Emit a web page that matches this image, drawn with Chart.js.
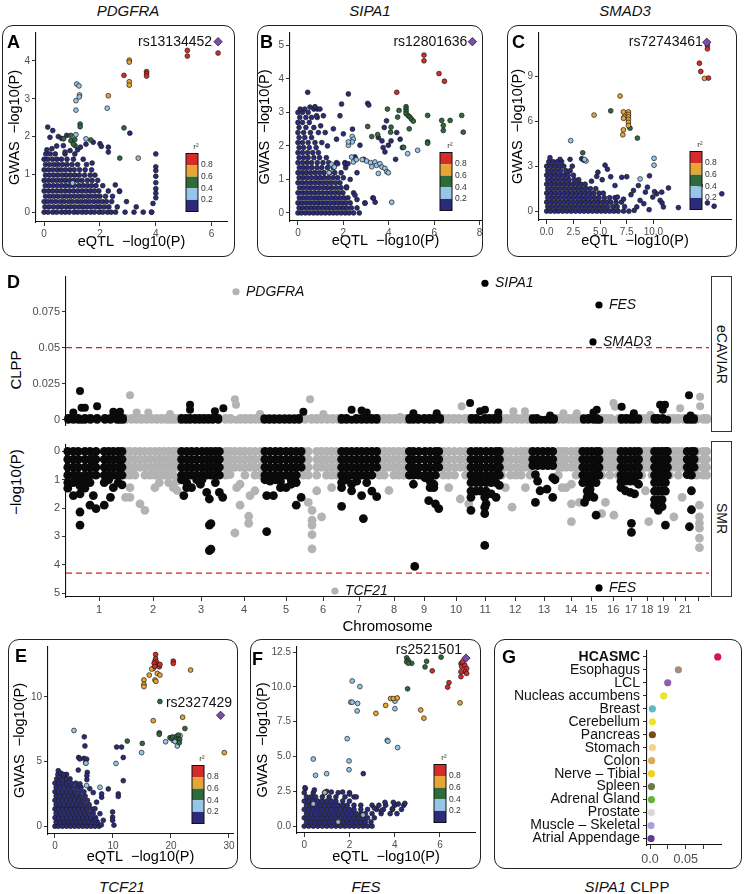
<!DOCTYPE html>
<html>
<head>
<meta charset="utf-8">
<script src="https://cdn.jsdelivr.net/npm/chart.js@4.4.1/dist/chart.umd.min.js"></script>
<style>
  body { margin: 0; background: #fff; }
  #fig { position: relative; width: 744px; height: 894px; overflow: hidden; font-family: 'Liberation Sans', Arial, Helvetica, sans-serif; }
  .box { position: absolute; border: 1.3px solid #222; border-radius: 11px; box-sizing: border-box; }
  .letter { position: absolute; font-weight: bold; font-size: 18px; line-height: 1; color: #000; z-index: 3; }
  .title { position: absolute; font-size: 15px; line-height: 1; color: #111; transform: translateX(-50%); white-space: nowrap; }
  .title i { font-style: italic; }
  canvas { position: absolute; z-index: 2; }
  .strip { position: absolute; border: 1.2px solid #333; box-sizing: border-box; background: #fff; display: flex; align-items: center; justify-content: center; z-index: 3; }
  .strip span { writing-mode: vertical-rl; font-size: 14px; color: #111; }
  .ytitle { position: absolute; font-size: 15px; color: #000; transform: translate(-50%, -50%) rotate(-90deg); white-space: nowrap; }
</style>
</head>
<body>
<div id="fig">
  <!-- top row -->
  <div class="title" style="left:128px;top:3px"><i>PDGFRA</i></div>
  <div class="title" style="left:370px;top:3px"><i>SIPA1</i></div>
  <div class="title" style="left:625px;top:3px"><i>SMAD3</i></div>
  <div class="box" style="left:2px;top:25px;width:233px;height:232px"></div>
  <div class="box" style="left:257px;top:25px;width:226px;height:232px"></div>
  <div class="box" style="left:507px;top:25px;width:230px;height:232px"></div>
  <div class="letter" style="left:7px;top:33px">A</div>
  <div class="letter" style="left:260px;top:33px">B</div>
  <div class="letter" style="left:512px;top:33px">C</div>
  <canvas id="cA" width="240" height="233" style="left:0;top:25px"></canvas>
  <canvas id="cB" width="245" height="233" style="left:245px;top:25px"></canvas>
  <canvas id="cC" width="254" height="233" style="left:490px;top:25px"></canvas>

  <!-- middle panel -->
  <div class="letter" style="left:7px;top:273px">D</div>
  <div class="ytitle" style="left:15px;top:370px">CLPP</div>
  <div class="ytitle" style="left:15px;top:482px">−log10(P)</div>
  <div class="strip" style="left:711px;top:276px;width:21px;height:156px"><span>eCAVIAR</span></div>
  <div class="strip" style="left:711px;top:441px;width:21px;height:156px"><span>SMR</span></div>
  <canvas id="cDtop" width="744" height="166" style="left:0;top:268px"></canvas>
  <canvas id="cDbot" width="744" height="202" style="left:0;top:436px"></canvas>

  <!-- bottom row -->
  <div class="box" style="left:8px;top:639px;width:230px;height:230px"></div>
  <div class="box" style="left:250px;top:639px;width:231px;height:230px"></div>
  <div class="box" style="left:494px;top:639px;width:248px;height:230px"></div>
  <div class="letter" style="left:15px;top:647px">E</div>
  <div class="letter" style="left:252px;top:650px">F</div>
  <div class="letter" style="left:502px;top:648px">G</div>
  <canvas id="cE" width="240" height="230" style="left:0;top:639px"></canvas>
  <canvas id="cF" width="245" height="230" style="left:245px;top:639px"></canvas>
  <canvas id="cG" width="248" height="230" style="left:494px;top:639px"></canvas>
  <div class="title" style="left:122px;top:879px"><i>TCF21</i></div>
  <div class="title" style="left:366px;top:879px"><i>FES</i></div>
  <div class="title" style="left:627px;top:879px"><i>SIPA1</i> CLPP</div>
</div>

<script>
const FONT = "'Liberation Sans', Arial, Helvetica, sans-serif";
Chart.defaults.font.family = FONT;
Chart.defaults.color = '#4d4d4d';

// r2 colour key, top to bottom
const r2Colors = ['#D62A2B', '#E6A534', '#2F6A3B', '#95C6E8', '#2B2B7C'];
const r2Labels = ['0.8', '0.6', '0.4', '0.2'];
const naColor = '#B0B0B0';
const leadColor = '#7A4FA3';

// ---------- Panel A (PDGFRA) ----------
const aLead = [6.23, 4.51];
const aRed = [[5.13,4.28],[5.13,4.13],[6.23,4.21],[3.67,3.72],[3.67,3.66],[3.67,3.6],[2.86,3.62]];
const aOrange = [[3.05,4.02],[3.05,3.97],[3.05,3.45],[3.05,3.36],[2.3,3.08]];
const aGreen = [[1.29,2.33],[1.29,2.26],[2.86,2.23],[.96,2.03],[.96,1.89],[1.1,1.92],[1.11,1.76],[2.71,1.43],[.7,1.94],[1.67,1.91],[1.05,1.8]];
const aLblue = [[1.17,3.39],[1.25,3.34],[1.27,3.1],[1.26,3.05],[1.14,2.95],[1.14,2.7],[2.26,2.75],[1.5,1.94],[1.14,2.05],[1.02,.77]];
const aGray = [[3.37,1.43]];
const aNavyRows = [
  [0, [0,.14,.31,.45,.62,.76,.9,1.07,1.2,1.36,1.5,1.66,1.8,1.97,2.1,2.27,2.4,2.56,2.9,3.22,3.55,3.85]],
  [.14, [.03,.18,.34,.5,.64,.8,.95,1.1,1.26,1.4,1.55,1.7,1.86,2.0,2.16,2.32,2.62,3.3]],
  [.28, [0,.12,.27,.42,.58,.72,.88,1.02,1.18,1.33,1.48,1.62,1.78,1.93,2.08,2.23,2.42,2.95]],
  [.42, [.05,.2,.35,.5,.66,.8,.95,1.1,1.25,1.4,1.56,1.7,1.85,2.0,2.2,2.45]],
  [.56, [0,.15,.3,.45,.6,.75,.9,1.05,1.2,1.35,1.5,1.65,1.8,1.96,2.3,2.7]],
  [.7, [.04,.18,.33,.48,.63,.78,.93,1.08,1.25,1.4,1.55,1.7,1.86,2.1]],
  [.84, [0,.15,.3,.45,.6,.75,.9,1.05,1.2,1.36,1.55,1.72,1.92]],
  [.98, [.05,.2,.35,.5,.66,.8,.95,1.1,1.26,1.45,1.65,1.82]],
  [1.12, [0,.15,.3,.46,.6,.76,.92,1.08,1.27,1.47,1.7]],
  [1.26, [.05,.2,.36,.5,.66,.82,1.0,1.2,1.52]],
  [1.4, [0,.13,.3,.46,.62,.82,1.05,1.4]],
  [1.54, [.06,.22,.4,.75,1.1]]
];
const aNavyPts = [[.13,2.25],[.31,2.16],[.21,1.98],[.51,2.0],[.63,1.95],[.81,2.03],[.69,1.76],[.75,1.59],[.93,1.63],[1.2,1.65],[1.76,1.85],[2.0,1.81],[2.05,1.74],[2.3,1.72],[2.3,1.59],[3.07,2.09],[.45,1.75],[.1,1.65],[1.5,1.8],[4.0,1.54],[4.0,1.2],[4.0,1.1],[4.0,.95],[4.0,.78],[4.0,.62],[4.0,.5],[4.0,.38],[3.9,.23],[3.85,0],[2.7,.55],[2.55,.72],[.28,1.68],[1.3,1.72],[1.72,1.3]];

// ---------- Panel B (SIPA1) ----------
const bLead = [7.68, 5.11];
const bRed = [[5.55,4.71],[5.55,4.54],[6.21,4.16],[6.45,3.93],[4.35,3.6]];
const bOrange = [];
const bGreen = [[3.94,3.1],[4.45,3.06],[4.76,3.17],[4.76,3.1],[4.76,3.03],[4.76,2.96],[4.86,2.9],[4.93,2.86],[5.0,2.8],[5.08,2.74],[5.71,2.91],[6.4,2.61],[6.33,2.76],[6.4,2.46],[6.7,2.76],[7.21,2.91],[7.28,2.41],[5.71,2.12],[5.71,2.08],[3.07,2.58],[3.25,2.28],[3.51,2.34],[4.08,2.41],[4.1,2.56],[4.9,2.51],[4.39,2.86],[4.65,1.96]];
const bLblue = [[3.02,1.55],[3.2,1.5],[3.39,1.52],[3.46,1.42],[3.61,1.47],[3.7,1.37],[3.83,1.33],[3.91,1.23],[3.98,1.2],[3.25,1.38],[3.54,1.18],[2.39,2.28],[2.44,2.2],[2.39,2.12],[2.22,2.02],[2.22,2.12],[1.48,1.45],[1.6,1.37],[1.37,1.2],[2.44,1.52],[5.27,1.87],[4.83,1.77],[4.13,.32],[2.36,1.67],[2.57,1.59],[2.83,1.59]];
const bGray = [];
const bNavyRows = [
  [0, [0,.15,.33,.5,.68,.85,1.02,1.2,1.38,1.55,1.72,1.9,2.08,2.25,2.45,2.7]],
  [.15, [.05,.22,.4,.58,.75,.92,1.1,1.28,1.45,1.62,1.8,1.98,2.15,2.35,2.6]],
  [.3, [0,.16,.34,.52,.7,.88,1.05,1.22,1.4,1.58,1.75,1.92,2.1,2.3,2.95]],
  [.45, [.06,.24,.42,.6,.78,.95,1.12,1.3,1.48,1.66,1.84,2.02,2.2,3.3]],
  [.6, [0,.18,.36,.54,.72,.9,1.08,1.26,1.44,1.62,1.8,1.98,2.45]],
  [.75, [.07,.25,.43,.6,.78,.96,1.14,1.32,1.5,1.7,1.9,2.14]],
  [.9, [0,.18,.36,.54,.72,.9,1.08,1.26,1.45,1.65,1.85]],
  [1.05, [.05,.23,.41,.6,.8,.98,1.16,1.35,1.55,1.75,2.0]],
  [1.2, [0,.18,.36,.55,.75,.95,1.15,1.4,1.62,1.9]],
  [1.35, [.06,.24,.42,.62,.84,1.05,1.3,1.55,2.1]],
  [1.5, [0,.2,.4,.6,.85,1.1,1.35,1.7,2.07]],
  [1.65, [.05,.25,.45,.7,.95,1.25]],
  [1.8, [0,.2,.42,.65,.9]],
  [1.95, [.05,.25,.5,.8]],
  [2.1, [0,.2,.45,.75,1.05]],
  [2.25, [.05,.3,.6]],
  [2.4, [0,.25,.55,.9]],
  [2.55, [.05,.35,.7]],
  [2.7, [0,.2,.5]],
  [2.85, [.08,.35,.6,.85]],
  [3.0, [0,.2,.45]],
  [3.1, [.1,.3,.7,.85]]
];
const bNavyPts = [[.43,3.6],[.53,3.16],[.75,3.17],[.97,3.1],[1.12,2.9],[.82,2.9],[1.0,2.6],[1.2,2.4],[1.3,2.0],[2.22,3.55],[1.92,3.25],[1.85,2.9],[3.07,3.27],[3.12,3.22],[2.0,2.36],[1.56,2.51],[3.54,2.25],[3.7,2.15],[3.98,2.02],[4.1,2.15],[3.83,1.82],[3.75,1.95],[2.73,2.02],[2.51,1.67],[2.9,1.6],[2.07,1.47],[2.14,.78],[2.51,.53],[2.6,.4],[3.32,.44],[3.4,.32],[2.95,.29],[2.3,1.0],[2.6,1.2],[1.7,2.2],[2.4,2.5],[4.3,1.6],[4.6,1.95],[4.5,2.2],[4.35,2.4],[3.8,2.55],[3.9,2.75],[1.75,1.47],[2.2,1.47]];

// ---------- Panel C (SMAD3) ----------
const cLead = [15.0, 11.28];
const cRed = [[15.06,11.06],[15.06,10.84],[14.31,9.88],[14.44,9.33],[15.16,8.89]];
const cOrange = [[14.78,8.87],[6.88,7.69],[4.44,6.42],[7.19,6.63],[7.28,6.31],[7.66,6.63],[7.66,6.46],[7.66,6.3],[7.66,6.13],[7.66,5.93],[7.66,5.72],[7.19,5.43],[7.13,5.1],[7.2,6.2]];
const cGreen = [[6.0,6.7],[7.81,5.54],[8.5,4.88],[3.38,3.9]];
const cLblue = [[2.25,4.71],[3.69,3.35],[3.55,3.45],[10.06,3.53],[10.06,3.07],[8.75,2.15]];
const cGray = [];
const cNavyRows = [
  [0, [0,.35,.75,1.1,1.5,1.9,2.3,2.7,3.1,3.5,3.9,4.3,4.7,5.1,5.5,5.9,6.3,6.7,7.2,7.7]],
  [.3, [.1,.5,.9,1.3,1.7,2.1,2.5,2.9,3.3,3.7,4.1,4.5,4.9,5.3,5.7,6.2,6.6,7.3]],
  [.6, [0,.4,.8,1.2,1.6,2.0,2.4,2.8,3.2,3.6,4.0,4.4,4.8,5.2,5.6,6.0,6.5,7.0]],
  [.9, [.1,.5,.9,1.3,1.7,2.1,2.5,2.9,3.3,3.7,4.1,4.5,4.9,5.4,5.9,6.4]],
  [1.2, [0,.4,.8,1.2,1.6,2.0,2.4,2.8,3.2,3.6,4.0,4.4,4.9,5.3]],
  [1.5, [.1,.5,.9,1.3,1.7,2.1,2.5,2.9,3.3,3.7,4.1,4.6]],
  [1.8, [0,.4,.8,1.2,1.6,2.0,2.4,2.8,3.2,3.6]],
  [2.1, [.1,.5,.9,1.3,1.7,2.1,2.6,3.0]],
  [2.4, [0,.4,.8,1.2,1.6,2.0,2.5]],
  [2.7, [.1,.5,.9,1.3,1.8,2.2]],
  [3.0, [0,.4,.8,1.2,1.6,2.4]],
  [3.3, [.2,.6,1.0,1.4]]
];
const cNavyPts = [[.31,3.57],[1.25,3.46],[2.19,3.46],[3.28,3.5],[3.5,3.4],[5.47,3.07],[5.69,2.8],[4.69,2.32],[7.03,2.26],[7.5,2.3],[9.63,2.36],[9.44,1.6],[8.59,1.71],[6.4,1.71],[8.13,1.38],[9.25,1.27],[9.94,.94],[10.31,1.16],[10.63,.72],[10.81,.55],[11.41,1.55],[10.78,1.27],[10.94,.28],[12.34,.24],[14.22,1.86],[14.38,1.71],[15.06,.55],[15.69,.33],[16.41,1.16],[6.63,.94],[7.2,.8],[8.75,.72],[9.1,.5],[8.44,.28],[8.2,.05],[9.6,.1],[6.0,2.3],[5.2,2.1],[4.8,2.6],[4.2,2.0],[10.1,1.3],[7.9,1.1]];

// ---------- Panel E (TCF21) ----------
const eLead = [28.56, 8.57];
const eRed = [[17.36,13.27],[17.36,12.95],[17.5,12.7],[17.64,12.5],[17.99,12.32],[18.1,12.5],[20.4,12.76],[20.4,12.58],[17.1,12.6],[17.2,12.35]];
const eOrange = [[17.24,12.76],[16.95,12.19],[16.7,12.15],[17.64,11.81],[16.26,11.68],[18.1,11.68],[15.34,11.3],[15.34,10.97],[15.34,10.79],[17.24,11.3],[17.4,11.2],[23.39,12.07],[16.95,8.16],[22.01,8.42],[29.2,5.69]];
const eGreen = [[18.1,9.64],[17.99,7.22],[17.99,7.1],[12.47,6.58],[15.06,6.4],[19.83,6.84],[20.1,6.78],[20.3,6.9],[21.0,6.95],[21.26,7.04],[21.26,6.75],[22.41,7.55],[21.5,6.7],[21.44,6.45]];
const eLblue = [[19.08,6.53],[20.4,6.63],[20.7,6.55],[21.09,6.2],[21.6,7.0],[14.94,5.69],[10.52,4.85],[3.28,7.4],[5.34,4.87],[5.46,3.14],[7.76,3.01]];
const eGray = [];
const eNavyRows = [
  [0, [0,.6,1.3,2.0,2.7,3.4,4.1,4.8,5.5,6.2,6.9,7.6]],
  [.33, [.2,.9,1.6,2.3,3.0,3.7,4.4,5.1,5.8,6.5,7.3]],
  [.66, [0,.6,1.3,2.0,2.7,3.4,4.1,4.8,5.5,6.2,7.0]],
  [1.0, [.2,.9,1.6,2.3,3.0,3.7,4.4,5.1,5.8,6.6]],
  [1.33, [0,.6,1.3,2.0,2.7,3.4,4.1,4.8,5.5,6.3]],
  [1.66, [.2,.9,1.6,2.3,3.0,3.7,4.4,5.1,5.9]],
  [2.0, [0,.6,1.3,2.0,2.7,3.4,4.1,4.8,5.6]],
  [2.33, [.2,.9,1.6,2.3,3.0,3.7,4.4,5.2]],
  [2.66, [0,.6,1.3,2.0,2.7,3.4,4.2,5.0]],
  [3.0, [.2,.9,1.6,2.3,3.0,3.8,4.5]],
  [3.33, [0,.6,1.3,2.0,2.8,3.6]],
  [3.66, [.3,1.0,1.8,2.6]],
  [4.0, [.5,1.2,2.0]]
];
const eNavyPts = [[.57,4.29],[1.0,4.1],[1.5,4.0],[2.01,3.65],[5.06,6.91],[5.17,6.2],[4.08,5.31],[4.3,5.2],[4.02,4.34],[5.0,5.25],[5.46,5.18],[5.3,4.9],[5.57,4.16],[5.5,3.9],[5.5,3.6],[4.31,3.27],[10.63,6.12],[11.49,6.12],[11.78,5.31],[11.78,3.52],[9.2,2.88],[10.92,2.5],[10.92,2.3],[9.94,1.1],[9.94,.7],[9.94,.46],[10.17,.08],[8.05,2.24],[8.05,2.5],[7.18,1.86],[6.9,1.35],[7.76,.97],[8.33,.46],[6.6,2.6],[6.0,2.9],[7.0,.5],[8.0,.1]];

// ---------- Panel F (FES) ----------
const fLead = [7.15, 12.06];
const fRed = [[6.93,11.66],[6.96,11.45],[7.1,11.55],[7.18,11.31],[7.1,11.1],[7.18,10.96],[6.93,11.08],[6.93,10.73],[6.4,10.3],[6.34,9.98],[5.66,11.15],[7.0,11.8]];
const fOrange = [[6.89,8.85],[5.15,8.34],[5.29,7.75],[3.82,9.16],[3.94,9.16],[4.11,9.2],[3.6,8.67],[3.17,8.1]];
const fGreen = [[4.53,12.08],[4.6,11.9],[4.53,11.8],[4.75,11.69],[4.6,11.7],[5.41,11.83],[5.34,11.43],[6.05,12.13],[4.57,9.86]];
const fLblue = [[2.12,10.42],[2.46,10.02],[2.06,8.9],[2.12,8.9],[2.36,8.81],[2.34,8.27],[4.01,8.97],[4.01,8.43],[1.9,6.28],[3.67,6.16],[3.7,6.1],[4.13,5.64],[.4,4.82],[.5,3.65],[.99,3.77],[1.98,4.68],[1.98,4.05]];
const fGray = [[.91,2.41],[.4,1.6],[2.6,.8],[1.5,.3]];
const fNavyRows = [
  [0, [0,.2,.4,.6,.8,1.0,1.2,1.4,1.6,1.8,2.0,2.2,2.4,2.6,2.8,3.0]],
  [.3, [.1,.3,.5,.7,.9,1.1,1.3,1.5,1.7,1.9,2.1,2.3,2.5,2.7,2.95]],
  [.6, [0,.2,.4,.6,.8,1.0,1.2,1.4,1.6,1.8,2.0,2.2,2.4,2.6,2.8,3.1]],
  [.9, [.1,.3,.5,.7,.9,1.1,1.3,1.5,1.7,1.9,2.1,2.3,2.5,2.7,3.0,3.4,3.8,4.1]],
  [1.2, [0,.2,.4,.6,.8,1.0,1.2,1.4,1.6,1.8,2.0,2.2,2.5,2.8,3.2,3.5,3.9,4.3]],
  [1.5, [.1,.3,.5,.7,.9,1.1,1.3,1.5,1.7,1.9,2.2,2.5,3.0,3.3,3.6,4.0,4.4]],
  [1.8, [0,.2,.4,.6,.8,1.0,1.2,1.4,1.7,2.0]],
  [2.1, [.1,.3,.5,.8,1.1,1.4,1.8,2.2]],
  [2.4, [0,.4,.9,1.5,2.0]],
  [2.7, [.05]]
];
const fNavyPts = [[2.61,3.77],[.03,2.76],[.45,2.6],[.99,2.5],[1.2,2.45],[1.7,2.45],[2.0,2.3],[2.3,2.1],[3.57,1.71],[3.94,1.71],[4.16,1.59],[4.45,1.64],[3.9,1.25],[3.4,1.1],[3.1,1.3]];

// ---------- Panel D (genome-wide, cumulative Mb) ----------
const chrTicks = [149,392,608,801,990,1157,1319,1476,1611,1755,1886,2021,2151,2273,2363,2462,2543,2615,2687,2741,2786,2844];
const chrLabels = ['1','2','3','4','5','6','7','8','9','10','11','12','13','14','15','16','17','18','19','','21',''];
const genomeEnd = 2893;
const clppThreshold = 0.05;
const smrThreshold = 4.3;

const clppGenes = ['PDGFRA', 'SIPA1', 'FES', 'SMAD3'];
const clppGenePos = [765, 1885, 2398, 2371];
const clppGeneVal = [0.0888, 0.0947, 0.0796, 0.054];
const clppGeneGray = [true, false, false, false];
const smrGenes = ['TCF21', 'FES'];
const smrGenePos = [1210, 2398];
const smrGeneVal = [4.93, 4.82];
const smrGeneGray = [true, false];

const clppBlackCols = [
  [10,[0,.0013]],[33,[0,.0013,.005]],[55,[0,.0013]],[63,[.02]],[70,[0,.0083]],[85,[0,.0013,.0083]],[110,[0,.0013]],[140,[0,.0013,.0094]],[175,[0,.0013]],[200,[0,.0013]],[213,[.0055]],[230,[0,.0013]],[243,[0,.0055]],[256,[0,.0013]],
  [520,[0,.0013]],[540,[0,.0013]],[558,[0,.0013,.007,.0105]],[580,[0,.0013]],[600,[0,.0013]],[620,[0,.0013]],[640,[0,.0013]],[660,[0,.0013]],[670,[.006]],[685,[0,.0013]],[708,[.008]],
  [893,[0,.001]],[915,[0,.001]],[937,[0,.001]],[960,[0,.001]],[983,[0,.001]],[1005,[0,.001]],[1027,[0,.001]],[1048,[0,.0013]],[1068,[.0055]],
  [1240,[0,.0013]],[1262,[0,.0013]],[1285,[0,.007]],[1307,[0,.0013]],[1330,[0,.0013,.0065]],[1353,[0,.005]],[1375,[0,.0013]],[1397,[0,.0013]],
  [1545,[0,.0013]],[1563,[0,.0046]],[1585,[0,.0013]],[1612,[0,.0013]],[1635,[0,.0013]],[1655,[0,.0013]],[1668,[.0046]],[1683,[0,.0013]],
  [1818,[.0116]],[1825,[0,.0013]],[1845,[0,.0013]],[1863,[0,.006]],[1885,[0,.0013,.007]],[1905,[0,.0013]],[1925,[0,.0013]],[1945,[0,.0013,.005]],
  [2100,[0,.001]],[2118,[0,.0013]],[2138,[0]],[2158,[0]],[2178,[0,.003]],[2195,[0,.001]],
  [2330,[0,.001]],[2350,[0,.0013]],[2373,[0,.005]],[2388,[0,.0013,.007]],[2400,[0]],
  [2500,[0,.0013,.009]],[2520,[0,.0013]],[2540,[0,.0013]],[2555,[0,.0046]],[2575,[0,.001]],
  [2648,[0,.0013]],[2662,[0,.0013]],[2673,[.0105]],[2685,[0,.0013,.007]],[2695,[.0105]],[2705,[0]],
  [2795,[0,.001]],[2803,[.017]],[2810,[0,.003]],[2825,[0,.001]]
];
const clppGrayCols = [
  [270,[0,.0013]],[288,[.017]],[295,[0,.0013]],[318,[0,.005]],[340,[0,.0013]],[362,[0,.0013]],[370,[.005]],[385,[0,.0013]],[408,[0,.0013]],[430,[0,.0013]],[452,[0,.0013]],[468,[0,.004]],[485,[0,.0013]],[505,[0,.0013]],
  [718,[0,.0013]],[740,[0,.0013]],[760,[.0143]],[765,[0,.0105]],[785,[0,.0013]],[808,[0,.0013]],[830,[0,.0013]],[853,[0,.0013]],[873,[0,.004]],
  [1075,[0,.0013]],[1098,[.0143]],[1105,[0,.0013]],[1128,[0,.0013]],[1150,[0,.0013]],[1158,[.004]],[1175,[0,.0013]],[1200,[0,.0013]],[1225,[0,.0013]],
  [1410,[0,.0013]],[1432,[0,.0013]],[1455,[0,.0013]],[1478,[0,.0013]],[1503,[0,.002]],[1528,[0,.0013]],
  [1700,[0,.0013]],[1722,[0,.0013]],[1745,[0,.0013]],[1768,[0,.0013]],[1780,[.0094]],[1795,[0,.0013]],[1812,[0,.0013]],
  [1960,[0,.0013]],[1982,[0,.0013]],[2005,[0,.0013]],[2013,[.006]],[2030,[0,.0013]],[2052,[0,.0013]],[2065,[.006]],[2075,[0,.0013]],[2092,[0,.0013]],
  [2215,[0,.0013]],[2238,[0,.0046]],[2260,[0,.0013]],[2280,[0,.0013]],[2298,[0,.0046]],[2316,[0,.0013]],
  [2410,[0,.0013]],[2430,[0,.0013]],[2450,[0,.0013]],[2463,[.0116]],[2470,[0,.009]],[2488,[0,.0013]],
  [2590,[0,.0013]],[2610,[0,.0013]],[2630,[0,.0035]],
  [2715,[0,.0013]],[2735,[0,.0013]],[2755,[0,.0013]],[2763,[.008]],[2778,[0,.0013]],
  [2838,[0,.0013]],[2853,[.0094,.016]],[2868,[0,.0013]],[2884,[0,.0013]]
];
const smrBlackCols = [
  [8,[0,.28,.56,.84,1.1,1.3]],[33,[0,.28,.56,.84,1.1,1.56]],[55,[0,.28,.56,.84,1.05]],[63,[1.22,1.5,2.14,2.6]],[85,[0,.28,.56,.84,1.0,1.3]],[108,[0,.28,.56,.84,1.1,1.9]],[123,[.28,.56,1.56]],[135,[0,.28,.56,.84,2.02]],[172,[0,.28,.56,.84,1.1,1.9]],[192,[0,.28,.56,.84,1.0]],[200,[1.62]],[213,[0,.28,.56,.84,1.28]],[235,[0,.28,.56,.84,1.1]],[252,[0,.28,.56,.84,1.18]],
  [520,[0,.28,.56,.84,1.0]],[530,[1.56]],[543,[0,.28,.56,.84,1.1,1.28]],[565,[0,.28,.56,.84,1.28]],[588,[0,.28,.56,.84,1.0]],[605,[1.16]],[612,[0,.28,.56,.84,1.0]],[633,[0,.28,.56,.84,1.45]],[645,[1.68,2.6,3.5]],[652,[0,.28,.56,.84,2.55,3.45]],[672,[0,.28,.56,.84,1.1]],[690,[0,.28,.56,.84,1.45]],[705,[1.62]],
  [895,[0,.28,.56,.84,1.0]],[903,[1.56,2.83]],[918,[0,.28,.56,.84,1.05]],[933,[1.56]],[942,[0,.28,.56,.84,1.0]],[965,[0,.28,.56,.84,1.05,1.28]],[990,[0,.28,.56,.84,1.28]],[1013,[0,.28,.56,.84,1.0,1.16]],[1036,[0,.28,.56,.84,1.1,1.9]],[1058,[0,.28,.56,1.62]],
  [1240,[0,.28,.56,.84,1.1,1.28,1.94]],[1262,[0,.28,.56,.84,1.0]],[1285,[0,.28,.56,.84,1.16,1.39]],[1308,[0,.28,.56,.84,1.05]],[1330,[0,.28,.56,.84,1.56]],[1338,[2.37]],[1353,[0,.28,.56,.84,1.1]],[1376,[0,.28,.56,.84,1.4]],[1398,[0,.28,.56,1.6]],
  [1545,[0,.28,.56,.84]],[1563,[0,.28,.56,.84,1.16]],[1569,[4.06]],[1575,[.7]],[1588,[0,.28,.56,.84]],[1615,[0,.28,.56,.84,.93]],[1632,[1.74]],[1638,[0,.28,.56,.84,1.05,1.28]],[1655,[1.16,1.28]],[1662,[0,.28,.56,.84,1.85]],[1677,[0,.28,.56,2.02]],
  [1822,[0,.28,.56,.84,1.1,1.4,1.62,2.08]],[1845,[0,.28,.56,.84,1.1,1.4]],[1866,[0,.28,.56,.84,1.1,1.4]],[1884,[1.62,1.97,2.2,3.32]],[1890,[0,.28,.56,.84,1.1,1.4,1.85]],[1913,[0,.28,.56,.84,1.1,1.5]],[1935,[0,.28,.56,.84,1.1,1.62]],[1950,[0,.28,.56,.84,1.2]],
  [2100,[0,.28,.5]],[2112,[.82,1.8]],[2122,[0,.28,.5,1.05]],[2133,[1.39]],[2145,[0,.28,.5]],[2164,[1.33]],[2168,[0,.28,.5]],[2190,[0,.28,.5,.93,1.62]],[2200,[1.0]],
  [2325,[0,.28,.56,.84,1.1]],[2333,[1.8]],[2345,[0,.28,.56,.84,1.1,1.39,1.62]],[2358,[1.33,1.5]],[2365,[0,.28,.56,.84,1.1]],[2375,[1.62]],[2385,[0,.28,.56,.84,1.1,2.25]],[2398,[0,.28,.56,.84]],
  [2497,[0,.28,.56,.84,1.05,1.28]],[2517,[0,.28,.56,.84,1.05,1.39]],[2538,[0,.28,.56,.84,1.05,1.45]],[2544,[2.54,2.86]],[2558,[0,.28,.56,.84,1.05,1.5]],[2576,[0,.28,.56,.84,1.16]],
  [2648,[0,.28,.56,.84,1.1,1.4,1.7,1.9]],[2665,[0,.28,.56,.84,1.1,1.4,1.7,2.08]],[2682,[0,.28,.56,.84,1.1,1.4,1.7,1.95]],[2697,[0,.28,.56,.84,1.1,1.4,2.6]],[2706,[0,.28,.56,.84]],
  [2795,[0,.28,.56,.82]],[2805,[2.66]],[2814,[0,.28,.56,.84,1.39,2.06]],[2826,[0,.28,.56]]
];
const smrGrayCols = [
  [268,[0,.28,.56,.84,1.62]],[288,[0,.28,.56,.84,1.28,1.62]],[310,[0,.28,.56,.84]],[333,[0,.28,.56,1.85]],[355,[0,.28,.56,.84,2.08]],[378,[0,.28,.56,.84]],[400,[0,.28,.56,.84,1.28]],[420,[0,.28,.56,.84,1.1]],[442,[0,.28,.56,.84]],[462,[0,.28,.56,.84,1.1]],[483,[0,.28,.56,.84,1.28]],[500,[0,.28,.56,1.05,1.38]],
  [718,[0,.28,.56,.84]],[738,[0,.28,.56,.82]],[760,[0,.28,.56,2.88]],[768,[1.28]],[783,[0,.28,.56,1.16,1.9]],[805,[0,.28,.56,.84]],[822,[2.29,2.54]],[828,[0,.28,.56,1.56]],[850,[0,.28,.56,.84,1.39]],[875,[0,.28,.56,.84]],
  [1068,[0,.28,.56,.84]],[1090,[0,.28,.56,.84,1.8]],[1107,[2.08,2.43,2.6,2.94,3.44]],[1128,[0,.28,.56,.84,1.39]],[1150,[0,.28,.56,2.31]],[1172,[0,.28,.56,.84]],[1195,[0,.28,.56,.84,1.28]],[1218,[0,.28,.56,.84]],
  [1410,[0,.28,.56,.84]],[1432,[0,.28,.56,.84]],[1453,[0,.28,.56,1.38]],[1475,[0,.28,.56,.84]],[1497,[0,.28,.56,.84]],[1520,[0,.28,.56,.84]],
  [1698,[0,.28,.56,.84]],[1722,[0,.28,.56,.84,1.28]],[1748,[0,.28,.56,.84]],[1774,[0,.28,.56,1.68]],[1798,[0,.28,.56,.84]],[1812,[1.85]],
  [1960,[0,.28,.56,.84]],[1977,[0,.28,.56,1.28]],[2000,[0,.28,.56,.84]],[2007,[1.97]],[2025,[0,.28,.56,.84]],[2048,[0,.28,.56,.84]],[2067,[0,.28,.56,1.28]],[2088,[0,.28,.56,.84]],
  [2215,[0,.28,.56,.84]],[2232,[0,.28,.56,1.28]],[2250,[0,.28,.56,1.28]],[2274,[0,.28,.56,1.16,1.85,2.48]],[2295,[0,.28,.56,.84]],[2310,[0,.28,.56,1.8]],
  [2410,[0,.28,.56,.84,2.2]],[2427,[0,.28,.56,1.8]],[2447,[0,.28,.56,.84]],[2465,[0,.28,.56,2.25]],[2485,[0,.28,.56,.84]],
  [2590,[0,.28,.56,.84]],[2607,[0,.28,.56,1.39]],[2622,[0,.28,.56,2.48]],[2637,[0,.28,.56,.84]],
  [2715,[0,.28,.56,.84]],[2735,[0,.28,.56,2.31]],[2755,[0,.28,.56,.84]],[2772,[0,.28,.56,1.62]],
  [2838,[0,.28,.56,.84]],[2850,[1.9,2.31,2.54,2.71,3.06,3.4]],[2865,[0,.28,.56,.84]],[2882,[0,.28,.56,.84]]
];

// ---------- Panel G (SIPA1 CLPP by tissue) ----------
const tissues = ['HCASMC','Esophagus','LCL','Nucleas accumbens','Breast','Cerebellum','Pancreas','Stomach','Colon','Nerve – Tibial','Spleen','Adrenal Gland','Prostate','Muscle – Skeletal','Atrial Appendage'];
const tissueClpp = [0.0948, 0.0397, 0.0248, 0.0192, 0.0033, 0.0033, 0.0033, 0.0033, 0.0023, 0.002, 0.002, 0.002, 0.002, 0.0015, 0.0015];
const tissueColors = ['#D5145B','#A58B7A','#8E5DAF','#E8E62C','#63B8C1','#E9E52B','#7A4A1F','#F3D592','#DBAA5E','#F0D12A','#6C7A45','#63B23C','#D9D9D9','#A8A2D8','#5F3A8F'];

// ---------- helpers ----------
function rowsToPairs(rows) {
  const out = [];
  rows.forEach(([y, xs]) => xs.forEach(x => out.push([x, y])));
  return out;
}
function colsToPairs(cols) {
  const out = [];
  cols.forEach(([x, ys]) => ys.forEach(y => out.push([x, y])));
  return out;
}
const toXY = pairs => pairs.map(([x, y]) => ({ x, y }));

function linAxis(o) {
  return {
    type: 'linear', min: o.min, max: o.max, reverse: !!o.reverse, display: o.display !== false,
    afterBuildTicks: s => { s.ticks = o.ticks.map(v => ({ value: v })); },
    afterFit: s => { if (o.size != null) { if (s.isHorizontal()) s.height = o.size; else s.width = o.size; } },
    ticks: {
      callback: (v, i) => (o.labels ? o.labels[i] : String(v)),
      font: { size: o.tickSize || 10 }, color: '#4d4d4d', padding: o.tickPad != null ? o.tickPad : 2,
      autoSkip: false, maxRotation: 0, minRotation: 0
    },
    grid: { display: true, drawOnChartArea: false, drawTicks: true, tickLength: 4, color: '#333', tickWidth: 1 },
    border: { display: true, color: '#111', width: 1.1 },
    title: o.title ? { display: true, text: o.title, font: { size: o.titleSize || 14.5 }, color: '#000', padding: o.titlePad } : { display: false }
  };
}

const r2LegendPlugin = {
  id: 'r2Legend',
  afterDraw(chart) {
    const { ctx, chartArea: a } = chart;
    const w = 12, h = 58;
    const left = a.right - 41, bottom = a.bottom - 10.5, top = bottom - h, seg = h / r2Colors.length;
    ctx.save();
    r2Colors.forEach((c, i) => { ctx.fillStyle = c; ctx.fillRect(left, top + i * seg, w, seg); });
    ctx.strokeStyle = '#111'; ctx.lineWidth = 1; ctx.strokeRect(left, top, w, h);
    ctx.font = `8.5px ${FONT}`; ctx.fillStyle = '#333'; ctx.textAlign = 'left'; ctx.textBaseline = 'middle';
    r2Labels.forEach((t, i) => ctx.fillText(t, left + w + 3, top + (i + 1) * seg));
    ctx.font = `8px ${FONT}`; ctx.textAlign = 'center';
    ctx.fillText('r²', left + w / 2 + 4, top - 7);
    ctx.restore();
  }
};

const leadLabelPlugin = {
  id: 'leadLabel',
  afterDatasetsDraw(chart, args, o) {
    const pt = chart.getDatasetMeta(0).data[0];
    const ctx = chart.ctx;
    ctx.save();
    ctx.font = `14px ${FONT}`; ctx.fillStyle = '#111'; ctx.textAlign = 'right'; ctx.textBaseline = 'middle';
    ctx.fillText(o.text, pt.x + o.dx, pt.y + o.dy);
    ctx.restore();
  }
};

function scatterPanel(id, p) {
  const ds = (pairs, color, extra) => Object.assign({
    data: toXY(pairs), backgroundColor: color, borderColor: '#1a1a1a', borderWidth: 0.7,
    pointRadius: 2.4, clip: false
  }, extra || {});
  const navy = rowsToPairs(p.navyRows).concat(p.navyPts);
  return new Chart(document.getElementById(id), {
    type: 'scatter',
    data: {
      datasets: [
        ds([p.lead], leadColor, { pointStyle: 'rectRot', pointRadius: 4.2, borderColor: '#2a1a40', borderWidth: 0.8 }),
        ds(p.red, r2Colors[0]),
        ds(p.orange, r2Colors[1]),
        ds(p.green, r2Colors[2]),
        ds(p.lblue, r2Colors[3]),
        ds(p.gray, naColor),
        ds(navy, r2Colors[4])
      ]
    },
    options: {
      responsive: false, animation: false, events: [],
      layout: { padding: p.pad },
      plugins: { legend: { display: false }, tooltip: { enabled: false }, leadLabel: p.label },
      scales: {
        x: linAxis(Object.assign({ title: 'eQTL  −log10(P)', titlePad: { top: 0, bottom: p.xTitlePad } }, p.x)),
        y: linAxis(Object.assign({ title: 'GWAS  −log10(P)', titlePad: { top: p.yTitlePad, bottom: 0 } }, p.y))
      }
    },
    plugins: [r2LegendPlugin, leadLabelPlugin]
  });
}

scatterPanel('cA', {
  lead: aLead, red: aRed, orange: aOrange, green: aGreen, lblue: aLblue, gray: aGray, navyRows: aNavyRows, navyPts: aNavyPts,
  pad: { left: 0, top: 7, right: 13, bottom: 0 }, yTitlePad: 6.3, xTitlePad: 7.6,
  x: { min: -0.29, max: 6.55, ticks: [0, 2, 4, 6], size: 36 },
  y: { min: -0.26, max: 4.74, ticks: [0, 1, 2, 3, 4], size: 36 },
  label: { text: 'rs13134452', dx: -6, dy: 0 }
});
scatterPanel('cB', {
  lead: bLead, red: bRed, orange: bOrange, green: bGreen, lblue: bLblue, gray: bGray, navyRows: bNavyRows, navyPts: bNavyPts,
  pad: { left: 0, top: 7, right: 9, bottom: 0 }, yTitlePad: 11.3, xTitlePad: 8.3,
  x: { min: -0.35, max: 8.06, ticks: [0, 2, 4, 6, 8], size: 37 },
  y: { min: -0.24, max: 5.37, ticks: [0, 1, 2, 3, 4, 5], size: 45 },
  label: { text: 'rs12801636', dx: -5, dy: 0 }
});
scatterPanel('cC', {
  lead: cLead, red: cRed, orange: cOrange, green: cGreen, lblue: cLblue, gray: cGray, navyRows: cNavyRows, navyPts: cNavyPts,
  pad: { left: 0, top: 5, right: 13, bottom: 0 }, yTitlePad: 19.3, xTitlePad: 8.6,
  x: { min: -0.72, max: 17.27, ticks: [0, 2.5, 5, 7.5, 10], labels: ['0.0', '2.5', '5.0', '7.5', '10.0'], size: 38 },
  y: { min: -0.59, max: 11.9, ticks: [0, 3, 6, 9], size: 49 },
  label: { text: 'rs72743461', dx: -4, dy: 0 }
});
scatterPanel('cE', {
  lead: eLead, red: eRed, orange: eOrange, green: eGreen, lblue: eLblue, gray: eGray, navyRows: eNavyRows, navyPts: eNavyPts,
  pad: { left: 0, top: 6, right: 7, bottom: 0 }, yTitlePad: 11.3, xTitlePad: 3.6,
  x: { min: -1.2, max: 30.7, ticks: [0, 10, 20, 30], size: 35 },
  y: { min: -0.6, max: 13.85, ticks: [0, 5, 10], size: 48 },
  label: { text: 'rs2327429', dx: 11.5, dy: -12 }
});
scatterPanel('cF', {
  lead: fLead, red: fRed, orange: fOrange, green: fGreen, lblue: fLblue, gray: fGray, navyRows: fNavyRows, navyPts: fNavyPts,
  pad: { left: 0, top: 4, right: 15, bottom: 0 }, yTitlePad: 9.3, xTitlePad: 3.6,
  x: { min: -0.32, max: 7.55, ticks: [0, 2, 4, 6], size: 36 },
  y: { min: -0.49, max: 12.86, ticks: [0, 2.5, 5, 7.5, 10, 12.5], labels: ['0.0', '2.5', '5.0', '7.5', '10.0', '12.5'], size: 52 },
  label: { text: 'rs2521501', dx: -4, dy: -8 }
});

// ---------- panel D ----------
const refLinePlugin = {
  id: 'refLine',
  afterDatasetsDraw(chart, args, o) {
    const { ctx, chartArea: a } = chart;
    const y = chart.scales.y.getPixelForValue(o.value);
    ctx.save();
    ctx.strokeStyle = '#E41A1C'; ctx.lineWidth = 1.3; ctx.setLineDash([6, 4]);
    ctx.beginPath(); ctx.moveTo(a.left, y); ctx.lineTo(a.right, y); ctx.stroke();
    ctx.restore();
  }
};
const geneLabelPlugin = {
  id: 'geneLabels',
  afterDatasetsDraw(chart, args, o) {
    const ctx = chart.ctx, xs = chart.scales.x, ys = chart.scales.y;
    ctx.save();
    ctx.font = `italic 14px ${FONT}`; ctx.fillStyle = '#111'; ctx.textAlign = 'left'; ctx.textBaseline = 'middle';
    o.names.forEach((n, i) => ctx.fillText(n, xs.getPixelForValue(o.xs[i]) + 10, ys.getPixelForValue(o.ys[i])));
    ctx.restore();
  }
};
function genePoints(pos, val, grayFlags, wantGray) {
  const out = [];
  pos.forEach((x, i) => { if (grayFlags[i] === wantGray) out.push({ x, y: val[i] }); });
  return out;
}
function manhattanSets(blackCols, grayCols, gPos, gVal, gGray, r) {
  const base = { borderWidth: 0, clip: false };
  return [
    Object.assign({ data: genePoints(gPos, gVal, gGray, false), backgroundColor: '#000', pointRadius: 3.6 }, base),
    Object.assign({ data: genePoints(gPos, gVal, gGray, true), backgroundColor: '#B3B3B3', pointRadius: 3.6 }, base),
    Object.assign({ data: toXY(colsToPairs(blackCols)), backgroundColor: '#0a0a0a', pointRadius: r }, base),
    Object.assign({ data: toXY(colsToPairs(grayCols)), backgroundColor: '#B3B3B3', pointRadius: r }, base)
  ];
}

new Chart(document.getElementById('cDtop'), {
  type: 'scatter',
  data: { datasets: manhattanSets(clppBlackCols, clppGrayCols, clppGenePos, clppGeneVal, clppGeneGray, 4) },
  options: {
    responsive: false, animation: false, events: [],
    layout: { padding: { left: 0, top: 7, right: 35, bottom: 2 } },
    plugins: {
      legend: { display: false }, tooltip: { enabled: false },
      refLine: { value: clppThreshold },
      geneLabels: { names: clppGenes, xs: clppGenePos, ys: clppGeneVal }
    },
    scales: {
      x: { type: 'linear', min: 0, max: genomeEnd, display: false },
      y: linAxis({ min: -0.0039, max: 0.0993, ticks: [0, 0.025, 0.05, 0.075], labels: ['0', '0.025', '0.05', '0.075'], size: 66, tickSize: 11 })
    }
  },
  plugins: [refLinePlugin, geneLabelPlugin]
});

new Chart(document.getElementById('cDbot'), {
  type: 'scatter',
  data: { datasets: manhattanSets(smrBlackCols, smrGrayCols, smrGenePos, smrGeneVal, smrGeneGray, 4.4) },
  options: {
    responsive: false, animation: false, events: [],
    layout: { padding: { left: 0, top: 5, right: 35, bottom: 0 } },
    plugins: {
      legend: { display: false }, tooltip: { enabled: false },
      refLine: { value: smrThreshold },
      geneLabels: { names: smrGenes, xs: smrGenePos, ys: smrGeneVal }
    },
    scales: {
      x: linAxis({ min: 0, max: genomeEnd, ticks: chrTicks, labels: chrLabels, size: 41, tickSize: 11,
                   title: 'Chromosome', titleSize: 15, titlePad: { top: 0, bottom: 2 } }),
      y: linAxis({ min: -0.24, max: 5.14, reverse: true, ticks: [0, 1, 2, 3, 4, 5], size: 66, tickSize: 11 })
    }
  },
  plugins: [refLinePlugin, geneLabelPlugin]
});

// ---------- panel G ----------
new Chart(document.getElementById('cG'), {
  type: 'scatter',
  data: {
    datasets: [{
      data: tissues.map((t, i) => ({ x: tissueClpp[i], y: t })),
      backgroundColor: tissueColors, borderWidth: 0, pointRadius: 3.6, clip: false
    }]
  },
  options: {
    responsive: false, animation: false, events: [],
    layout: { padding: { left: 0, top: 3, right: 21, bottom: 0 } },
    plugins: { legend: { display: false }, tooltip: { enabled: false } },
    scales: {
      x: linAxis({ min: -0.0042, max: 0.0994, ticks: [0, 0.025, 0.05, 0.075], labels: ['0.0', '', '0.05', ''], size: 24, tickSize: 12.5, tickPad: 3 }),
      y: {
        type: 'category', labels: tissues, offset: true,
        afterFit: s => { s.width = 153; },
        ticks: {
          font: c => ({ size: 14, weight: c.index === 0 ? 'bold' : 'normal' }),
          color: '#111', padding: 3, autoSkip: false
        },
        grid: { display: true, drawOnChartArea: false, drawTicks: true, tickLength: 4, color: '#333', offset: false },
        border: { display: true, color: '#111', width: 1.1 }
      }
    }
  }
});
</script>
</body>
</html>
